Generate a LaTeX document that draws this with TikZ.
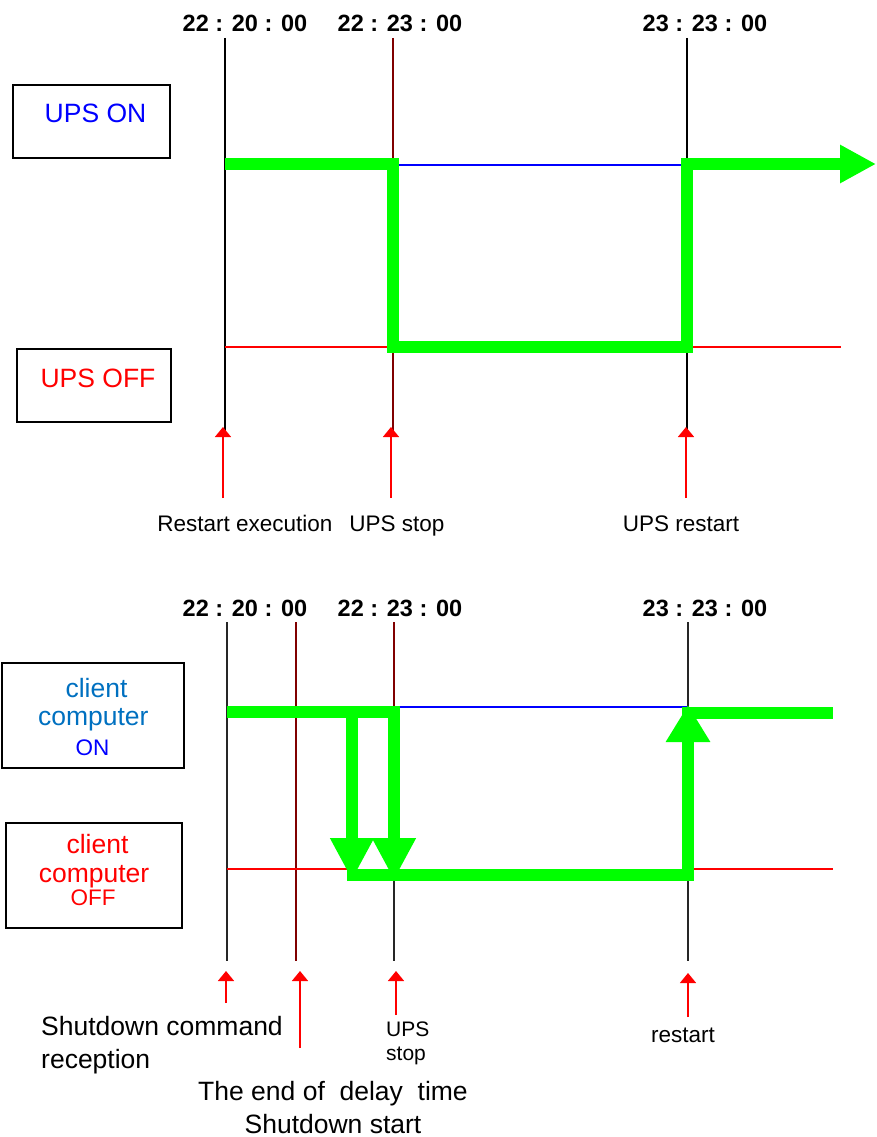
\documentclass[tikz,border=0pt]{standalone}
\usepackage{fontspec}
\setmainfont{Liberation Sans}
\usetikzlibrary{arrows.meta}
\definecolor{grn}{RGB}{0,255,0}
\definecolor{dred}{RGB}{128,0,0}
\definecolor{cblue}{RGB}{0,112,192}
\tikzset{
  time/.style={font=\fontsize{23.5}{27}\selectfont\bfseries, inner sep=0pt, anchor=base},
  lbl/.style={font=\fontsize{22.5}{26}\selectfont, inner sep=0pt, anchor=base},
  big/.style={font=\fontsize{26.5}{30}\selectfont, inner sep=0pt, anchor=base},
  small/.style={font=\fontsize{21}{24}\selectfont, inner sep=0pt, anchor=base west},
  box/.style={draw, line width=2pt, inner sep=0pt},
  vline/.style={line width=2pt},
  vthin/.style={line width=1.5pt},
  sig/.style={grn, line width=12pt, line join=miter},
  redarr/.style={red, line width=1.5pt, -{Triangle[length=10pt,width=16pt]}}
}
\begin{document}
\begin{tikzpicture}[x=1pt,y=-1pt]
\useasboundingbox (0,0) rectangle (876,1137);

% ---------------- top section ----------------
\node[time] (t1) at (245,32) {22 : 20 : 00};
\node[time] (t2) at (400,32) {22 : 23 : 00};
\node[time] (t3) at (705,32) {23 : 23 : 00};

\node[box, minimum width=157pt, minimum height=73pt] (bon) at (91.5,121.5) {};
\node[big, blue] (bontxt) at (95.5,123) {UPS ON};
\node[box, minimum width=154pt, minimum height=73pt] (boff) at (94,385.5) {};
\node[big, red] (bofftxt) at (98,387) {UPS OFF};

\coordinate (a1t) at (225,38);  \coordinate (a1b) at (225,432);
\coordinate (a2t) at (393,38);  \coordinate (a2b) at (393,432);
\coordinate (a3t) at (687,38);  \coordinate (a3b) at (687,432);
\draw[vline] (a1t) -- (a1b);
\draw[vline, dred] (a2t) -- (a2b);
\draw[vline] (a3t) -- (a3b);

\coordinate (on1) at (393,165); \coordinate (on2) at (687,165);
\draw[vline, blue] (on1) -- (on2);
\coordinate (of1) at (225,347); \coordinate (of2) at (393,347);
\coordinate (of3) at (687,347); \coordinate (of4) at (841,347);
\draw[vline, red] (of1) -- (of2);
\draw[vline, red] (of3) -- (of4);

\coordinate (g1) at (225,164); \coordinate (g2) at (393,164);
\coordinate (g3) at (393,347); \coordinate (g4) at (687,347);
\coordinate (g5) at (687,164); \coordinate (g6) at (876,164);
\draw[sig, -{Triangle[length=36pt,width=36pt]}] (g1) -- (g2) -- (g3) -- (g4) -- (g5) -- (g6);

\coordinate (r1s) at (223,498); \coordinate (r1e) at (223,427);
\coordinate (r2s) at (391,498); \coordinate (r2e) at (391,427);
\coordinate (r3s) at (686,498); \coordinate (r3e) at (686,427);
\draw[redarr] (r1s) -- (r1e);
\draw[redarr] (r2s) -- (r2e);
\draw[redarr] (r3s) -- (r3e);

\node[lbl] (l1) at (245,531) {Restart execution};
\node[lbl] (l2) at (397,531) {UPS stop};
\node[lbl] (l3) at (681,531) {UPS restart};

% ---------------- bottom section ----------------
\node[time] (u1) at (245,616) {22 : 20 : 00};
\node[time] (u2) at (400,616) {22 : 23 : 00};
\node[time] (u3) at (705,616) {23 : 23 : 00};

\node[box, minimum width=182pt, minimum height=105pt] (con) at (93,715.5) {};
\node[big, cblue] (con1) at (96.5,697) {client};
\node[big, cblue] (con2) at (93.3,725) {computer};
\node[lbl, blue] (con3) at (92.5,755) {ON};
\node[box, minimum width=176pt, minimum height=105pt] (coff) at (94,875.5) {};
\node[big, red] (coff1) at (97.5,853) {client};
\node[big, red] (coff2) at (94,882) {computer};
\node[lbl, red] (coff3) at (93,905) {OFF};

\coordinate (b1t) at (227,622); \coordinate (b1b) at (227,961);
\coordinate (b2t) at (296,622); \coordinate (b2b) at (296,961);
\coordinate (b3t) at (394,622); \coordinate (b3m) at (394,869); \coordinate (b3b) at (394,961);
\coordinate (b4t) at (688,622); \coordinate (b4b) at (688,961);
\draw[vthin, black!85] (b1t) -- (b1b);
\draw[vthin, dred] (b2t) -- (b2b);
\draw[vthin, dred] (b3t) -- (b3m);
\draw[vthin, black!85] (b3m) -- (b3b);
\draw[vthin, black!85] (b4t) -- (b4b);

\coordinate (bon1) at (400,707); \coordinate (bon2) at (688,707);
\draw[vthin, blue] (bon1) -- (bon2);
\coordinate (bof1) at (227,869); \coordinate (bof2) at (347,869);
\coordinate (bof3) at (693,869); \coordinate (bof4) at (833,869);
\draw[vthin, red] (bof1) -- (bof2);
\draw[vthin, red] (bof3) -- (bof4);

\coordinate (h1) at (227,712); \coordinate (h2) at (394,712); \coordinate (h3) at (394,880);
\coordinate (k1) at (352,712); \coordinate (k2) at (352,880);
\coordinate (m1) at (347,874.5); \coordinate (m2) at (688,874.5); \coordinate (m3) at (688,705);
\coordinate (n1) at (682,712.5); \coordinate (n2) at (833,712.5);
\draw[sig] (n1) -- (n2);
\draw[sig, -{Triangle[length=42pt,width=41pt]}] (h1) -- (h2) -- (h3);
\draw[sig, -{Triangle[length=42pt,width=41pt]}] (k1) -- (k2);
\draw[sig, -{Triangle[length=37pt,width=42pt]}] (m1) -- (m2) -- (m3);

\coordinate (s1s) at (226,1003); \coordinate (s1e) at (226,971);
\coordinate (s2s) at (300,1048); \coordinate (s2e) at (300,971);
\coordinate (s3s) at (396,1015); \coordinate (s3e) at (396,971);
\coordinate (s4s) at (688,1017); \coordinate (s4e) at (688,973);
\draw[redarr] (s1s) -- (s1e);
\draw[redarr] (s2s) -- (s2e);
\draw[redarr] (s3s) -- (s3e);
\draw[redarr] (s4s) -- (s4e);

\node[big, anchor=base west] (sc1) at (41,1035) {Shutdown command};
\node[big, anchor=base west] (sc2) at (41,1068) {reception};
\node[small] (us1) at (386,1036) {UPS};
\node[small] (us2) at (386,1060) {stop};
\node[big] (de1) at (333,1100) {The end of\ \ delay\ \ time};
\node[big] (de2) at (333,1133) {Shutdown start};
\node[lbl] (rs) at (683,1042) {restart};
\end{tikzpicture}
\end{document}
